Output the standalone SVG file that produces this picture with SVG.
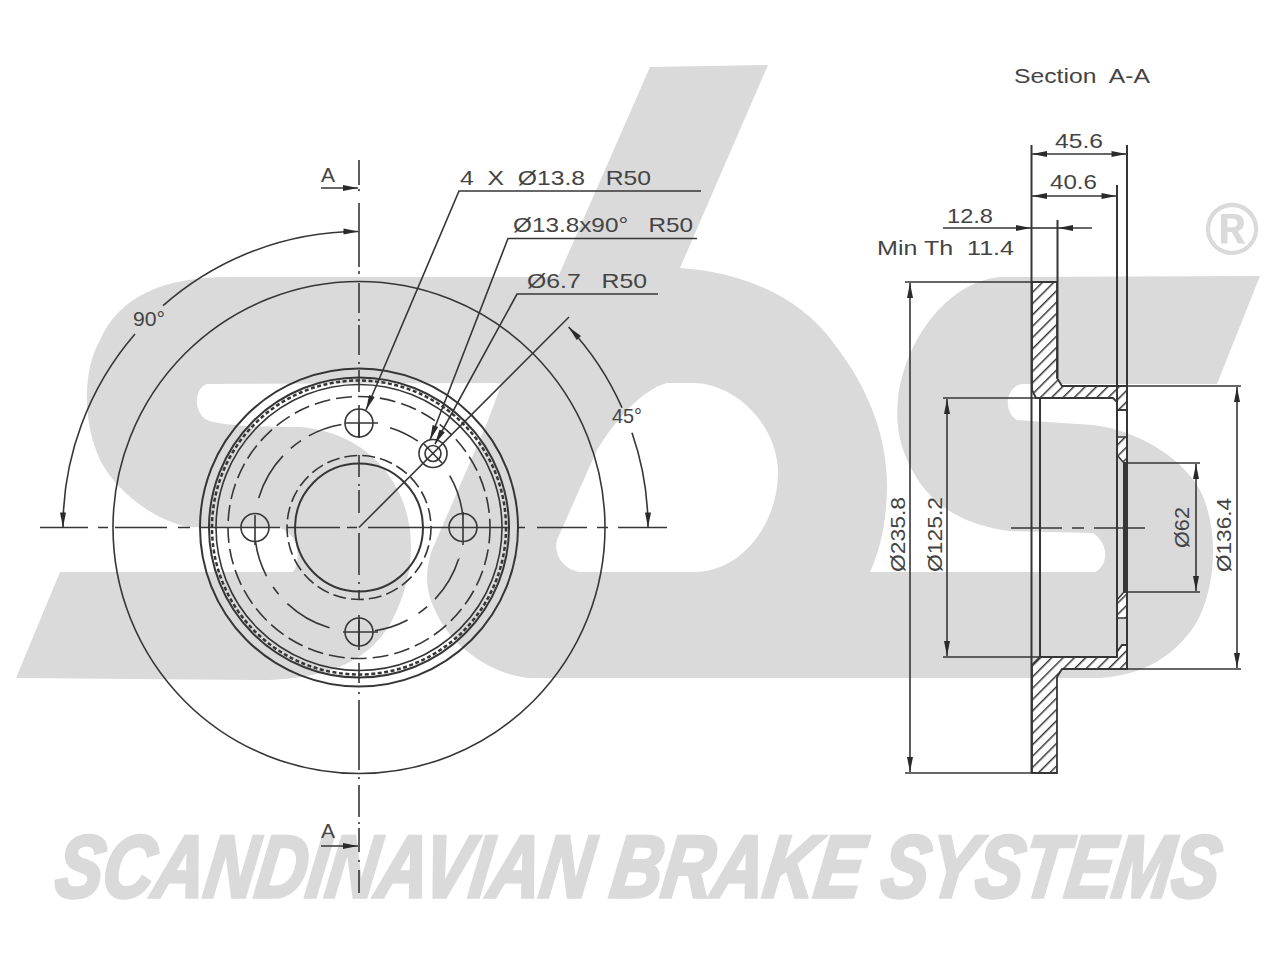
<svg xmlns="http://www.w3.org/2000/svg" width="1280" height="960" viewBox="0 0 1280 960">
<style>
.ln{fill:none;stroke:#363636;stroke-width:1.6}
.th{fill:none;stroke:#363636;stroke-width:2}
.dim{marker-start:url(#ah);marker-end:url(#ah)}
.one{marker-end:url(#ah)}
.t{font-family:"Liberation Sans",Arial,sans-serif;font-size:21px;fill:#444;white-space:pre}
.wm{fill:#dadada}
</style>
<defs>
<marker id="ah" markerUnits="userSpaceOnUse" markerWidth="18" markerHeight="8" viewBox="-16 -4 18 8" refX="0" refY="0" orient="auto-start-reverse"><path d="M0,0L-15,-3L-15,3Z" fill="#2a2a2a"/></marker>
<pattern id="hatch" patternUnits="userSpaceOnUse" width="8" height="8" patternTransform="rotate(-45)"><rect width="8" height="8" fill="#fff"/><line x1="0" y1="0" x2="8" y2="0" stroke="#363636" stroke-width="3"/></pattern>
</defs>

<g id="logo">
<path class="wm" fill-rule="evenodd" d="M230,277 L558,277 L650,67 L768,65 L680,268 C740,272 800,295 835,345 C870,390 888,440 887,490 C886,525 880,550 870,572 L1095,572 C1108,565 1110,545 1093,533 L1010,531 C970,526 935,510 915,475 C900,450 895,425 898,400 C903,345 945,282 1000,277 L1260,276 L1217,384 L1023,384 C1005,386 1003,412 1017,420 L1093,425 C1135,430 1180,455 1200,490 C1220,530 1216,590 1195,625 C1175,655 1145,675 1100,678 L530,678 C490,675 450,645 435,610 C425,590 425,570 432,550 L487,423 L502,383 L207,384 C194,388 193,412 207,420 C225,427 270,427 300,427 C340,430 375,450 395,485 C415,520 417,565 397,610 C380,650 345,678 267,680 L16,678 L60,572 L293,572 C302,560 298,533 280,528 L190,527 C155,522 115,490 100,460 C82,420 83,370 100,340 C120,295 165,277 230,277 Z
M557,540 C553,555 565,572 583,572 L697,572 C745,570 778,520 778,473 C778,425 735,383 693,383 L667,383 C640,390 612,425 597,450 Z"/>
<text class="wm" x="1232" y="254" font-family="'Liberation Sans',Arial,sans-serif" font-size="74" font-weight="bold" text-anchor="middle">®</text>
<text class="wm" transform="translate(53,897) skewX(-8) scale(1,1.22)" font-family="'Liberation Sans',Arial,sans-serif" font-size="72" font-weight="bold" font-style="italic" stroke="#dadada" stroke-width="3" textLength="1163" lengthAdjust="spacingAndGlyphs">SCANDINAVIAN BRAKE SYSTEMS</text>
</g>

<g id="front-view">
<g class="ln">
<circle cx="359" cy="527.5" r="246"/>
<circle cx="359" cy="527.5" r="159" stroke-width="2"/>
<circle cx="359" cy="527.5" r="150" stroke-width="2"/>
<circle cx="359" cy="527.5" r="147" stroke-width="2.5" stroke-dasharray="4 2.5"/>
<circle cx="359" cy="527.5" r="143"/>
<circle cx="359" cy="527.5" r="131" stroke-dasharray="16 6"/>
<circle cx="359" cy="527.5" r="72" stroke-dasharray="13 5"/>
<circle cx="359" cy="527.5" r="64" stroke-width="2"/>
<circle cx="359" cy="527.5" r="104.5" pathLength="360" stroke-dasharray="17 26 23 24 26 6 6 7 19 25 27 7 5 7 20 24 27 6 7 5 19 27" transform="rotate(-72.7 359 527.5)"/>
</g>
<g id="holes" class="ln">
<circle cx="359" cy="423" r="14"/>
<circle cx="255" cy="527.5" r="14"/>
<circle cx="463" cy="527.5" r="14"/>
<circle cx="359" cy="632" r="14"/>
<circle cx="433" cy="453.5" r="14"/>
<circle cx="433" cy="453.5" r="8"/>
<path d="M345,423H378M359,405V438M238,527.5H273M255,515V545M463,512V545M445,527.5H481M343,632H378M359,615V650M424,444L442,463"/>
</g>
<g id="centre-lines" class="ln">
<path d="M359,160V185M359,189V191M359,203V267M359,271V274M359,283V313M359,319V321M359,325V355M359,362V364M359,370V392M359,423V438M359,455V477M359,484V486M359,490V513M359,533V575M359,582V584M359,590V600M359,620V645M359,663V683M359,692V694M359,700V770M359,777V779M359,785V817M359,822V824M359,828V852M359,860V862M359,870V893"/>
<path d="M40,527.5H88M98,527.5H108M115,527.5H167M178,527.5H190M200,527.5H238M273,527.5H280M287,527.5H340M347,527.5H357M368,527.5H445M481,527.5H510M517,527.5H525M537,527.5H587M597,527.5H608M618,527.5H667"/>
</g>
<g id="section-marks" class="ln">
<path class="one" d="M321,188H358"/>
<path class="one" d="M321,846H358"/>
<path d="M63,527.500A296,296 0 0 1 135,334" style="marker-start:url(#ah)"/>
<path class="one" d="M163,305.700A296,296 0 0 1 358.500,231.500"/>
<path class="one" d="M622,407.700A289,289 0 0 0 568.600,327"/>
<path class="one" d="M632,432.700A289,289 0 0 1 648,527.500"/>
<path d="M359,527.500L569,317"/>
</g>
<g id="leaders" class="ln">
<path class="one" d="M701,191H459L366,410"/>
<path class="one" d="M697,238.500H508L430,440"/>
<path class="one" d="M658,294H517L435,444"/>
</g>
</g>

<g id="section-view">
<g class="th">
<path fill="url(#hatch)" stroke-width="1.8" d="M1032,282H1057V378L1062,386H1127V410H1117V402L1113,398H1040L1036,398L1032,390Z"/>
<path fill="url(#hatch)" stroke-width="1.8" d="M1032,773H1057V677L1062,669H1127V645H1122L1117,652V657H1040L1032,665Z"/>
<path fill="url(#hatch)" stroke-width="1.5" d="M1117,437H1127V463H1124L1117,455Z"/>
<path fill="url(#hatch)" stroke-width="1.5" d="M1117,618H1127V592H1124L1117,600Z"/>
</g>
<g class="ln">
<path stroke-width="2" d="M1031.500,145V773M1127,145V669M1117,185V657M1057.500,220V378M1040,398V657"/>
<path stroke-width="3" d="M1124.500,463V592"/>
<path d="M905,282H1032M905,773H1032M943,398H1040M943,657H1040M1124,463H1200M1124,592H1200M1127,386H1241M1127,669H1241"/>
<path d="M1011,528H1062M1072,528H1084M1094,528H1145"/>
<path d="M1031,228H1058"/>
</g>
<g class="ln">
<path class="dim" d="M1032,154H1126.500"/>
<path class="dim" d="M1032,196H1116.500"/>
<path class="one" d="M943,228H1031"/>
<path class="one" d="M1092,228H1058"/>
<path class="dim" d="M910,283V772"/>
<path class="dim" d="M947,399V656"/>
<path class="dim" d="M1196,464V591"/>
<path class="dim" d="M1237,387V668"/>
</g>
</g>

<g id="labels">
<text class="t" x="1014" y="83" textLength="136" lengthAdjust="spacingAndGlyphs">Section  A-A</text>
<text class="t" x="1055" y="148" textLength="48" lengthAdjust="spacingAndGlyphs">45.6</text>
<text class="t" x="1050" y="189" textLength="47" lengthAdjust="spacingAndGlyphs">40.6</text>
<text class="t" x="947" y="223" textLength="46" lengthAdjust="spacingAndGlyphs">12.8</text>
<text class="t" x="877" y="255" textLength="137" lengthAdjust="spacingAndGlyphs">Min Th  11.4</text>
<text class="t" x="460" y="185" textLength="191" lengthAdjust="spacingAndGlyphs">4  X  Ø13.8   R50</text>
<text class="t" x="513" y="232" textLength="180" lengthAdjust="spacingAndGlyphs">Ø13.8x90°   R50</text>
<text class="t" x="527" y="288" textLength="120" lengthAdjust="spacingAndGlyphs">Ø6.7   R50</text>
<text class="t" x="321" y="182">A</text>
<text class="t" x="321" y="838">A</text>
<text class="t" x="133" y="326" textLength="32" lengthAdjust="spacingAndGlyphs">90°</text>
<text class="t" x="612" y="423" textLength="30" lengthAdjust="spacingAndGlyphs">45°</text>
<text class="t" transform="translate(905,572) rotate(-90)" textLength="75" lengthAdjust="spacingAndGlyphs">Ø235.8</text>
<text class="t" transform="translate(942,572) rotate(-90)" textLength="75" lengthAdjust="spacingAndGlyphs">Ø125.2</text>
<text class="t" transform="translate(1189,548) rotate(-90)" textLength="41" lengthAdjust="spacingAndGlyphs">Ø62</text>
<text class="t" transform="translate(1231,572) rotate(-90)" textLength="74" lengthAdjust="spacingAndGlyphs">Ø136.4</text>
</g>
</svg>
